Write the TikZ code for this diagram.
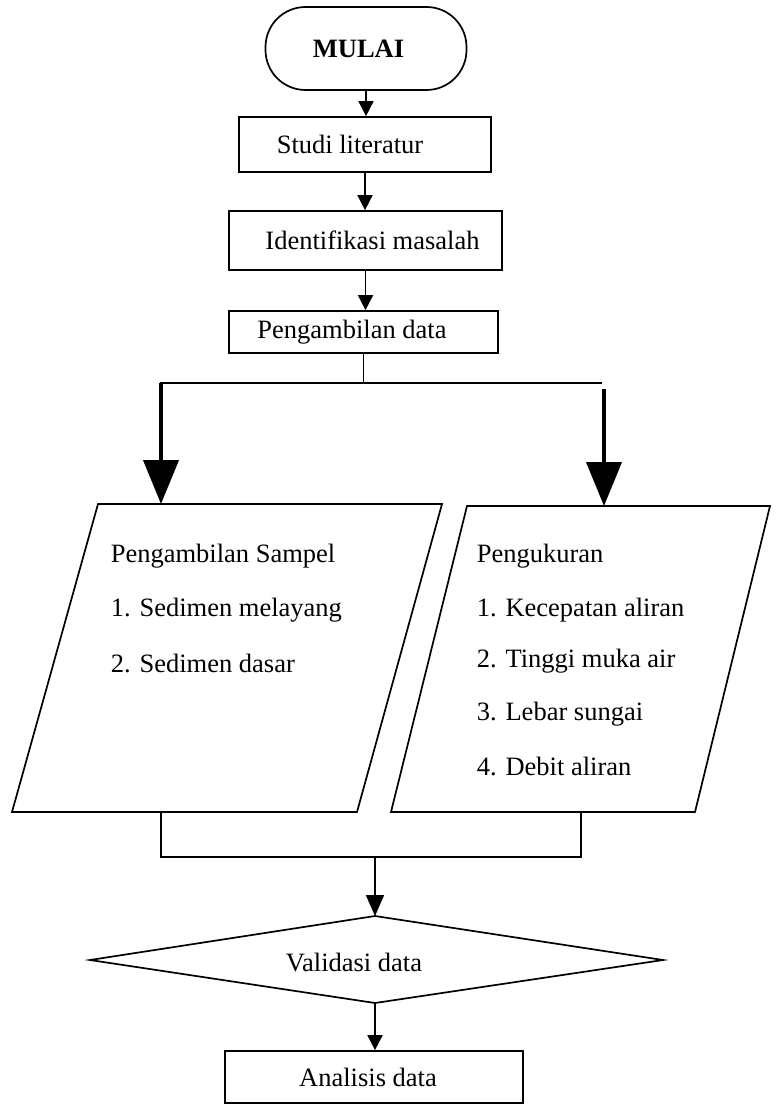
\documentclass[tikz,border=0pt]{standalone}
\usepackage{fontspec}
\setmainfont{Liberation Serif}
\usetikzlibrary{arrows.meta}
\begin{document}
\begin{tikzpicture}[x=1pt,y=-1pt, line width=1.7pt,
  font=\fontsize{26.5}{30}\selectfont,
  box/.style={draw, rectangle, inner sep=2pt},
  thinarrow/.style={-{Triangle[length=15pt,width=15pt]}},
  bigarrow/.style={-{Triangle[length=21pt,width=18pt]}},
  thickarrow/.style={line width=4pt, -{Triangle[length=44pt,width=35pt]}},
  txt/.style={anchor=base west, inner sep=0pt}]
\useasboundingbox (0,0) rectangle (777,1105);

% top boxes
\node[box, rounded corners=40pt, minimum width=201pt, minimum height=83pt,
      font=\fontsize{26.5}{30}\selectfont\bfseries] (mulai) at (366,48.5) {\hspace*{-15pt}MULAI};
\node[box, minimum width=252pt, minimum height=55pt] (studi) at (365,144.5) {\hspace*{-30pt}Studi literatur};
\node[box, minimum width=273pt, minimum height=59pt] (ident) at (365.5,240.5) {\hspace*{14pt}Identifikasi masalah};
\node[box, minimum width=269pt, minimum height=42pt] (pdata) at (363.5,332) {\hspace*{-23pt}Pengambilan data};

\draw[thinarrow] (mulai.south) -- (mulai.south |- studi.north);
\draw[thinarrow] (studi.south) -- (studi.south |- ident.north);
\draw[thinarrow] (ident.south) -- (ident.south |- pdata.north);

% split
\coordinate (split) at (365,383);
\coordinate (hl) at (160,383);
\coordinate (hr) at (602,383);
\coordinate (la) at (161,383);
\coordinate (ra) at (604,389);
\draw (pdata.south) -- (pdata.south |- split);
\draw (hl) -- (hr);

% parallelograms
\coordinate (L1) at (98,504);
\coordinate (L2) at (442,504);
\coordinate (L3) at (357,812);
\coordinate (L4) at (12,812);
\coordinate (R1) at (467,506);
\coordinate (R2) at (770,506);
\coordinate (R3) at (695,812);
\coordinate (R4) at (391,812);
\draw (L1) -- (L2) -- (L3) -- (L4) -- cycle;
\draw (R1) -- (R2) -- (R3) -- (R4) -- cycle;

\draw[thickarrow] (la) -- (la |- L1);
\draw[thickarrow] (ra) -- (ra |- R1);

\node[txt] (ls0) at (110,562) {Pengambilan Sampel};
\node[txt] (ls1) at (110,616) {1. Sedimen melayang};
\node[txt] (ls2) at (110,672) {2. Sedimen dasar};

\node[txt] (rs0) at (476,562) {Pengukuran};
\node[txt] (rs1) at (476,616) {1. Kecepatan aliran};
\node[txt] (rs2) at (476,667) {2. Tinggi muka air};
\node[txt] (rs3) at (476,720) {3. Lebar sungai};
\node[txt] (rs4) at (476,775) {4. Debit aliran};

% merge
\coordinate (ml) at (161,812);
\coordinate (mr) at (581,812);
\coordinate (mlb) at (161,857);
\coordinate (mrb) at (581,857);
\coordinate (mc) at (375,857);
\draw (ml) -- (mlb) -- (mrb) -- (mr);

% diamond
\coordinate (dT) at (375,916);
\coordinate (dR) at (663,960);
\coordinate (dB) at (375,1003);
\coordinate (dL) at (90,960);
\draw (dT) -- (dR) -- (dB) -- (dL) -- cycle;
\node (valid) at (354,962) {Validasi data};
\draw[bigarrow] (mc) -- (dT);

% final box
\node[box, minimum width=298pt, minimum height=52pt] (anal) at (374,1077) {\hspace*{-12pt}Analisis data};
\draw[thinarrow] (dB) -- (dB |- anal.north);
\end{tikzpicture}
\end{document}
